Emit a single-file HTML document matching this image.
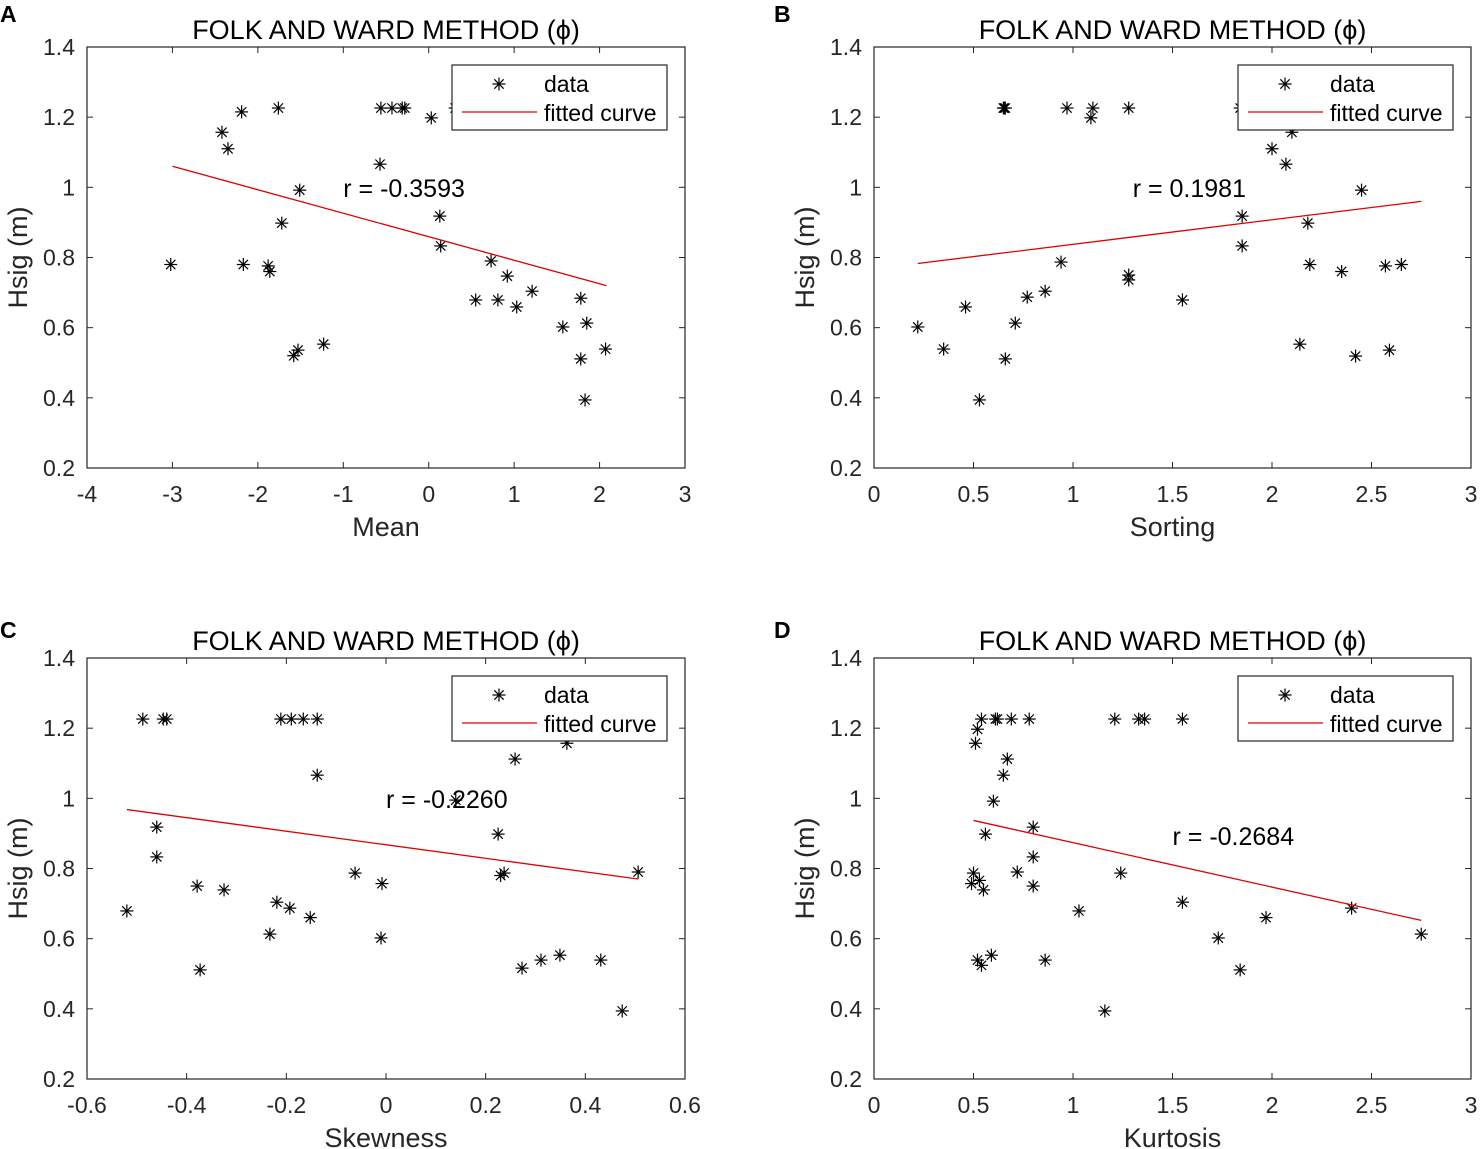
<!DOCTYPE html>
<html><head><meta charset="utf-8"><style>
body{margin:0;background:#fff;}
svg{display:block;font-family:"Liberation Sans",Arial,sans-serif;}
</style></head><body>
<svg id="fig" width="1483" height="1149" viewBox="0 0 1483 1149" xmlns="http://www.w3.org/2000/svg"></svg>
<script>
// Panel A: Mean
const meanX=[-3.02,-2.42,-2.35,-2.19,-2.17,-1.88,-1.86,-1.76,-1.72,-1.58,-1.53,-1.51,-1.23,-0.57,-0.56,-0.43,-0.31,-0.28,0.03,0.13,0.14,0.31,0.55,0.73,0.81,0.92,1.03,1.21,1.57,1.78,1.85,1.78,1.83,2.07];
const meanY=[0.78,1.157,1.11,1.215,0.78,0.776,0.76,1.226,0.898,0.52,0.536,0.992,0.553,1.066,1.226,1.226,1.226,1.226,1.198,0.918,0.833,1.226,0.679,0.79,0.679,0.747,0.659,0.704,0.602,0.684,0.613,0.511,0.394,0.539];
const meanFit=[[-3.0,1.06],[2.08,0.72]];
// Panel B: Sorting
const sortX=[0.22,0.35,0.46,0.53,0.65,0.655,0.66,0.66,0.71,0.77,0.86,0.94,0.97,1.09,1.1,1.28,1.28,1.28,1.55,1.84,1.85,1.85,2.0,2.07,2.1,2.18,2.14,2.19,2.35,2.42,2.45,2.57,2.59,2.65];
const sortY=[0.602,0.539,0.659,0.394,1.226,1.226,1.226,0.511,0.613,0.687,0.704,0.787,1.226,1.198,1.226,1.226,0.75,0.736,0.679,1.226,0.918,0.833,1.11,1.066,1.157,0.898,0.553,0.78,0.76,0.519,0.992,0.776,0.536,0.78];
const sortFit=[[0.22,0.783],[2.75,0.96]];
// Panel C: Skewness
const skewX=[-0.52,-0.488,-0.46,-0.46,-0.447,-0.44,-0.379,-0.373,-0.325,-0.233,-0.219,-0.211,-0.193,-0.19,-0.166,-0.152,-0.138,-0.138,-0.062,-0.01,-0.008,0.14,0.225,0.23,0.237,0.259,0.273,0.311,0.349,0.363,0.431,0.474,0.506];
const skewY=[0.679,1.226,0.918,0.833,1.226,1.226,0.75,0.511,0.739,0.613,0.704,1.226,0.687,1.226,1.226,0.66,1.226,1.066,0.787,0.602,0.757,0.995,0.898,0.78,0.787,1.112,0.516,0.539,0.553,1.157,0.539,0.394,0.79];
const skewFit=[[-0.52,0.968],[0.506,0.77]];
// Panel D: Kurtosis
const kurtX=[0.49,0.5,0.51,0.52,0.52,0.53,0.54,0.54,0.55,0.56,0.59,0.6,0.61,0.62,0.65,0.67,0.69,0.72,0.78,0.8,0.8,0.8,0.86,1.03,1.16,1.21,1.24,1.33,1.36,1.55,1.55,1.73,1.84,1.97,2.4,2.75];
const kurtY=[0.757,0.787,1.157,0.539,1.197,0.766,1.226,0.524,0.739,0.898,0.553,0.992,1.226,1.226,1.066,1.112,1.226,0.79,1.226,0.918,0.833,0.75,0.539,0.679,0.394,1.226,0.787,1.226,1.226,1.226,0.704,0.602,0.511,0.66,0.687,0.613];
const kurtFit=[[0.5,0.937],[2.75,0.652]];
const yTicks=[0.2,0.4,0.6,0.8,1,1.2,1.4];
const xTicksA=[-4,-3,-2,-1,0,1,2,3];
const xTicksB=[0,0.5,1,1.5,2,2.5,3];
const xTicksC=[-0.6,-0.4,-0.2,0,0.2,0.4,0.6];
const xTicksD=[0,0.5,1,1.5,2,2.5,3];

const NS="http://www.w3.org/2000/svg";
const svg=document.getElementById('fig');
function mk(tag,attrs,parent){const e=document.createElementNS(NS,tag);for(const k in attrs)e.setAttribute(k,attrs[k]);(parent||svg).appendChild(e);return e;}
function txt(s,attrs,parent){const e=mk('text',attrs,parent);e.textContent=s;return e;}

const panels=[
 {id:'a',letter:'A',lx:0,ly:22,x0:87,x1:685,y0:47,y1:468,xmin:-4,xmax:3,xt:xTicksA,xs:meanX,ys:meanY,fit:meanFit,r:'r = -0.3593',rx:-1.0,ry:0.995,xl:'Mean'},
 {id:'b',letter:'B',lx:774,ly:22,x0:874,x1:1471,y0:47,y1:468,xmin:0,xmax:3,xt:xTicksB,xs:sortX,ys:sortY,fit:sortFit,r:'r = 0.1981',rx:1.30,ry:0.995,xl:'Sorting'},
 {id:'c',letter:'C',lx:0,ly:638,x0:87,x1:685,y0:658,y1:1079,xmin:-0.6,xmax:0.6,xt:xTicksC,xs:skewX,ys:skewY,fit:skewFit,r:'r = -0.2260',rx:0.0,ry:0.995,xl:'Skewness'},
 {id:'d',letter:'D',lx:774,ly:638,x0:874,x1:1471,y0:658,y1:1079,xmin:0,xmax:3,xt:xTicksD,xs:kurtX,ys:kurtY,fit:kurtFit,r:'r = -0.2684',rx:1.5,ry:0.89,xl:'Kurtosis'}
];
panels.forEach(p=>{
 const g=mk('g',{});
 
 
 const X=v=>p.x0+(v-p.xmin)/(p.xmax-p.xmin)*(p.x1-p.x0);
 const Y=v=>p.y1-(v-0.2)/1.2*(p.y1-p.y0);
 const L=txt(p.letter,{x:p.lx,y:p.ly,'font-size':23,'font-weight':'bold'},g);
 
 
 const T=txt('FOLK AND WARD METHOD (\u03D5)',{x:(p.x0+p.x1)/2,y:p.y0-8,'font-size':27,'text-anchor':'middle'},g);
 
 
 const box=mk('rect',{x:p.x0,y:p.y0,width:p.x1-p.x0,height:p.y1-p.y0,fill:'none',stroke:'#262626','stroke-width':1.2},g);
 
 
 p.xt.forEach(t=>{
  const x=X(t);
  mk('line',{x1:x,x2:x,y1:p.y1,y2:p.y1-6,stroke:'#262626'},g);
  mk('line',{x1:x,x2:x,y1:p.y0,y2:p.y0+6,stroke:'#262626'},g);
  const lb=txt(String(t),{x:x,y:p.y1+34,'font-size':23,'text-anchor':'middle',fill:'#262626'},g);
  
  
 });
 yTicks.forEach(t=>{
  const y=Y(t);
  mk('line',{x1:p.x0,x2:p.x0+6,y1:y,y2:y,stroke:'#262626'},g);
  mk('line',{x1:p.x1,x2:p.x1-6,y1:y,y2:y,stroke:'#262626'},g);
  const lb=txt(String(t),{x:p.x0-12,y:y+8,'font-size':23,'text-anchor':'end',fill:'#262626'},g);
  
  
 });
 const xl=txt(p.xl,{x:(p.x0+p.x1)/2,y:p.y1+68,'font-size':27,'text-anchor':'middle',fill:'#262626'},g);
 
 
 const cy=(p.y0+p.y1)/2;
 const yl=txt('Hsig (m)',{x:p.x0-60,y:cy,'font-size':27,'text-anchor':'middle',fill:'#262626',transform:'rotate(-90 '+(p.x0-60)+' '+cy+')'},g);
 
 
 function star(cx,cy,parent){
  const s=mk('g',{stroke:'#000','stroke-width':1.2},parent);
  
  
  const r=6.5;
  mk('line',{x1:cx-r,x2:cx+r,y1:cy,y2:cy},s);
  mk('line',{x1:cx,x2:cx,y1:cy-r,y2:cy+r},s);
  const d=r*0.72;
  mk('line',{x1:cx-d,x2:cx+d,y1:cy-d,y2:cy+d},s);
  mk('line',{x1:cx-d,x2:cx+d,y1:cy+d,y2:cy-d},s);
 }
 for(let i=0;i<p.xs.length;i++) star(X(p.xs[i]),Y(p.ys[i]),g);
 const fl=mk('line',{x1:X(p.fit[0][0]),y1:Y(p.fit[0][1]),x2:X(p.fit[1][0]),y2:Y(p.fit[1][1]),stroke:'#e00000','stroke-width':1.3},g);
 
 
 const rt=txt(p.r,{x:X(p.rx),y:Y(p.ry)+8,'font-size':25,'text-anchor':'start'},g);
 
 
 const lg=mk('g',{},g);
 
 
 const lx=p.x1-233,ly=p.y0+18;
 mk('rect',{x:lx,y:ly,width:215,height:65,fill:'#fff',stroke:'#262626','stroke-width':1.2},lg);
 star(lx+47,ly+19,lg);
 const t1=txt('data',{x:lx+92,y:ly+27,'font-size':23},lg);
 
 
 mk('line',{x1:lx+10,x2:lx+85,y1:ly+47,y2:ly+47,stroke:'#e00000','stroke-width':1.3},lg);
 const t2=txt('fitted curve',{x:lx+92,y:ly+56,'font-size':23},lg);
 
 
});
</script>
</body></html>
